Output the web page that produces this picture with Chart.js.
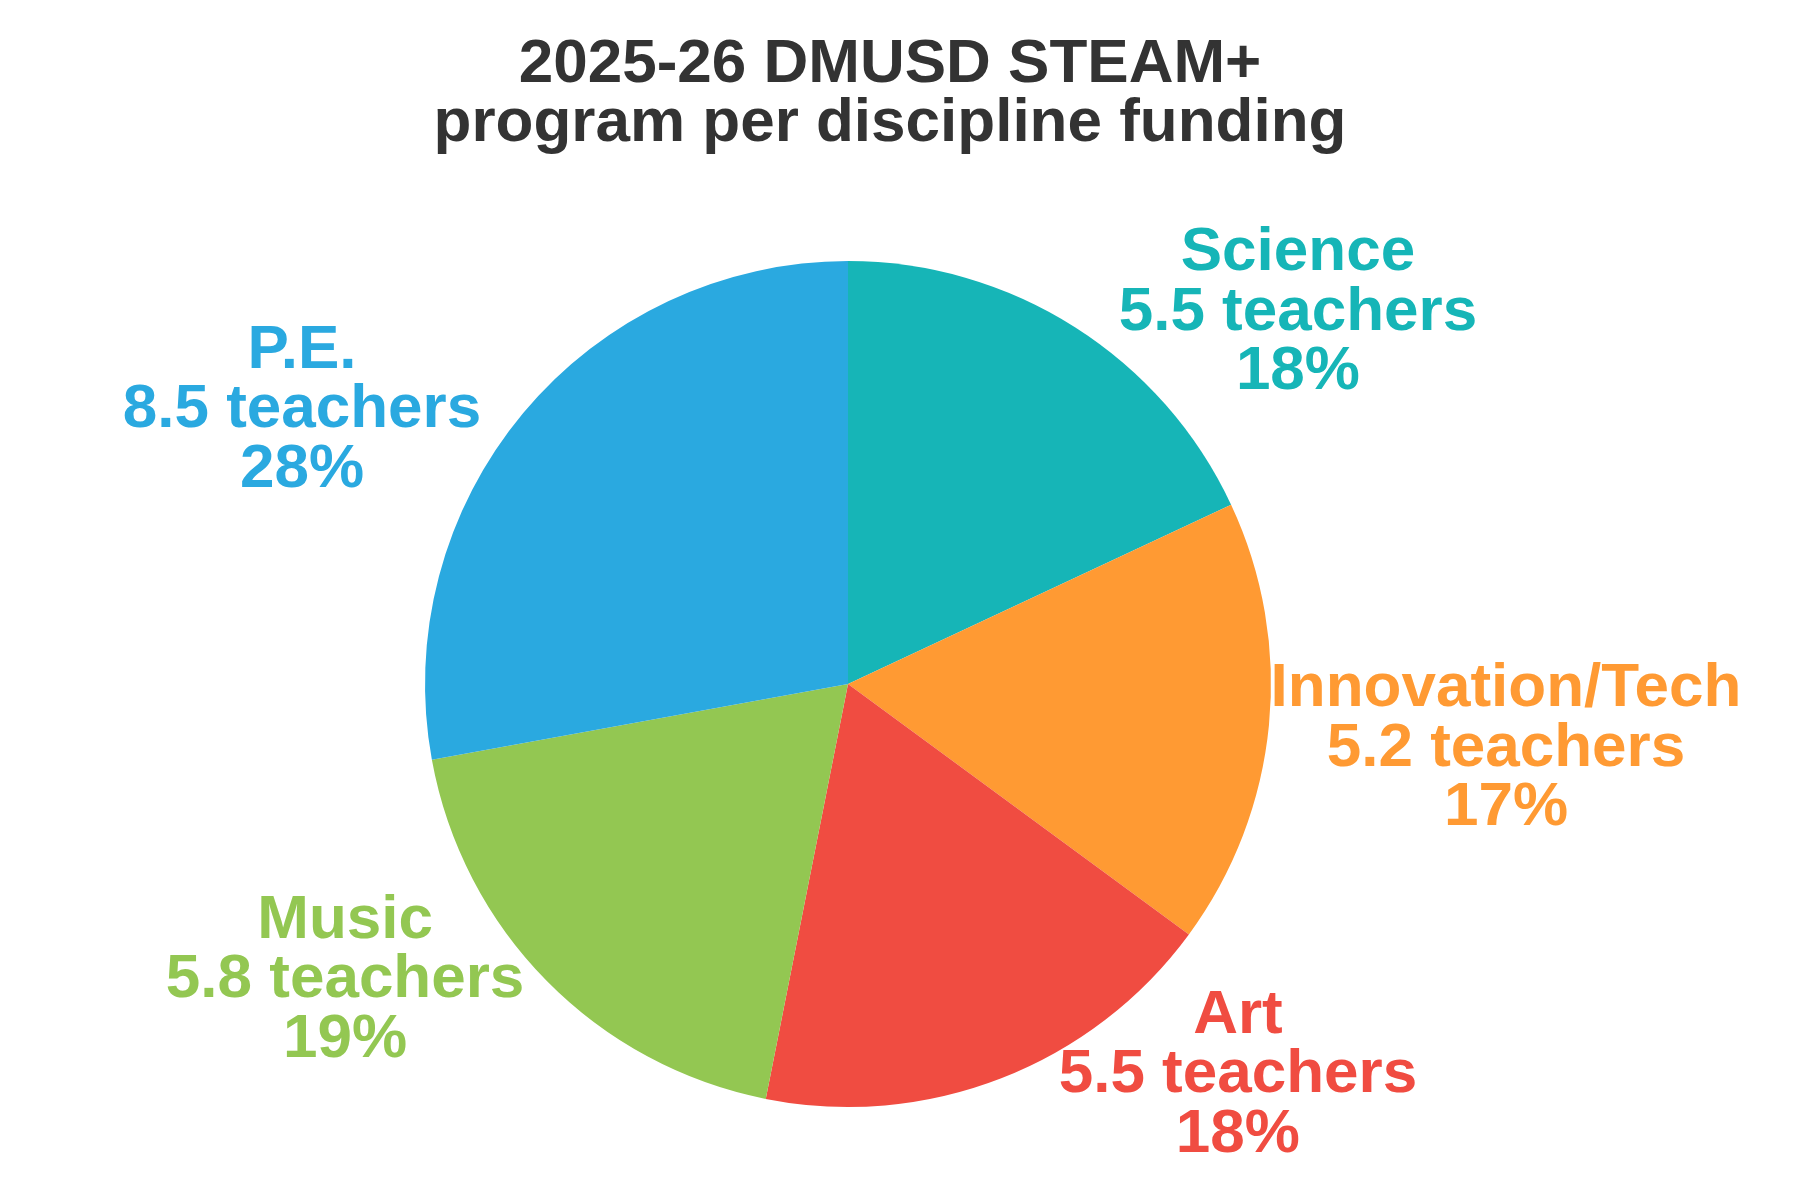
<!DOCTYPE html>
<html>
<head>
<meta charset="utf-8">
<script src="https://cdn.jsdelivr.net/npm/chart.js@4"></script>
<style>
  html, body { margin: 0; padding: 0; background: #ffffff; }
  #wrap { width: 1800px; height: 1200px; }
</style>
</head>
<body>
<div id="wrap"><canvas id="c" width="1800" height="1200"></canvas></div>
<script>
const categories = ["Science", "Innovation/Tech", "Art", "Music", "P.E."];
const teachers = [5.5, 5.2, 5.5, 5.8, 8.5];
const sliceColors = ["#16B5B7", "#FF9A33", "#F04C41", "#93C752", "#2AA9E0"];
const titleLines = ["2025-26 DMUSD STEAM+", "program per discipline funding"];

// label placement (polar, relative to pie centre, in radius units; angle clockwise from 12 o'clock)
const labelLayout = [
  { r: 1.3536, deg: 51.8 },
  { r: 1.5676, deg: 97.1 },
  { r: 1.3343, deg: 136.3 },
  { r: 1.4005, deg: 238.1 },
  { r: 1.4267, deg: 295.2 }
];
// pie area shifted slightly left of the title centre
const PIE_RIGHT_INSET = 84;

const FONT = '"Liberation Sans", Arial, Helvetica, sans-serif';

const shiftPie = {
  id: 'shiftPie',
  afterLayout(chart) {
    const a = chart.chartArea;
    a.right = a.right - PIE_RIGHT_INSET;
    a.width = a.right - a.left;
  }
};

const outsideLabels = {
  id: 'outsideLabels',
  afterDatasetsDraw(chart) {
    const ctx = chart.ctx;
    const meta = chart.getDatasetMeta(0);
    const data = chart.data.datasets[0].data;
    const total = data.reduce((a, b) => a + b, 0);
    ctx.save();
    ctx.font = 'bold 62px ' + FONT;
    ctx.textAlign = 'center';
    ctx.textBaseline = 'alphabetic';
    const lh = 59.5;
    meta.data.forEach((arc, i) => {
      const p = arc.getProps(['x', 'y', 'outerRadius'], true);
      const lay = labelLayout[i];
      const a = lay.deg * Math.PI / 180;
      const cx = p.x + Math.sin(a) * lay.r * p.outerRadius;
      const cy = p.y - Math.cos(a) * lay.r * p.outerRadius;
      const pct = Math.round(data[i] / total * 100) + '%';
      const lines = [chart.data.labels[i], data[i] + ' teachers', pct];
      ctx.fillStyle = sliceColors[i];
      lines.forEach((t, k) => {
        ctx.fillText(t, cx, cy + (k - 1) * lh);
      });
    });
    ctx.restore();
  }
};

new Chart(document.getElementById('c'), {
  type: 'pie',
  data: {
    labels: categories,
    datasets: [{
      data: teachers,
      backgroundColor: sliceColors,
      borderWidth: 0,
      hoverOffset: 0
    }]
  },
  options: {
    responsive: false,
    animation: false,
    rotation: 0,
    layout: { padding: { top: 0, bottom: 93, left: 0, right: 20 } },
    plugins: {
      legend: { display: false },
      tooltip: { enabled: false },
      title: {
        display: true,
        text: titleLines,
        color: '#333333',
        font: { family: FONT, size: 62, weight: 'bold', lineHeight: 0.952 },
        padding: { top: 35, bottom: 108 }
      }
    }
  },
  plugins: [shiftPie, outsideLabels]
});
</script>
</body>
</html>
